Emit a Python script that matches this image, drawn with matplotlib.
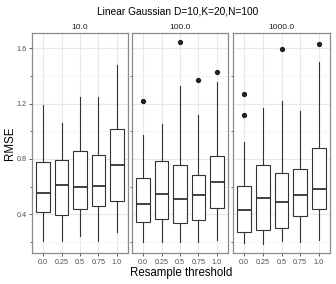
import matplotlib
matplotlib.use("Agg")
import matplotlib.pyplot as plt

plt.rcParams['font.family'] = ['Liberation Sans', 'DejaVu Sans']

facets = ["10.0", "100.0", "1000.0"]
thresholds = ["0.0", "0.25", "0.5", "0.75", "1.0"]

# per facet: whisker low, Q1, median, Q3, whisker high for each threshold
whislo = [[0.205, 0.21, 0.243, 0.205, 0.272],
          [0.202, 0.202, 0.200, 0.202, 0.214],
          [0.190, 0.186, 0.207, 0.200, 0.214]]
q1 = [[0.419, 0.395, 0.436, 0.460, 0.494],
      [0.347, 0.368, 0.339, 0.361, 0.448],
      [0.274, 0.287, 0.303, 0.388, 0.436]]
med = [[0.552, 0.614, 0.595, 0.604, 0.754],
       [0.472, 0.549, 0.508, 0.539, 0.635],
       [0.429, 0.515, 0.487, 0.537, 0.583]]
q3 = [[0.775, 0.790, 0.859, 0.828, 1.014],
      [0.662, 0.783, 0.754, 0.682, 0.823],
      [0.607, 0.756, 0.696, 0.727, 0.876]]
whishi = [[1.189, 1.057, 1.245, 1.249, 1.478],
          [0.973, 1.052, 1.325, 1.117, 1.357],
          [0.924, 1.165, 1.218, 1.148, 1.502]]
outliers = [[[], [], [], [], []],
            [[1.219], [], [1.642], [1.370], [1.430]],
            [[1.270, 1.117], [], [1.595], [], [1.630]]]

title = "Linear Gaussian D=10,K=20,N=100"
xlabel = "Resample threshold"
ylabel = "RMSE"

W, H = 336, 284
fig = plt.figure(figsize=(W / 100, H / 100), dpi=100)

panel_x = [(32, 128), (132, 228), (233, 330)]
top, bottom = 33, 253

line_col = "#333333"
for i, (x0, x1) in enumerate(panel_x):
    ax = fig.add_axes([x0 / W, 1 - bottom / H, (x1 - x0) / W, (bottom - top) / H])
    stats = []
    for j in range(len(thresholds)):
        stats.append(dict(whislo=whislo[i][j], q1=q1[i][j], med=med[i][j],
                          q3=q3[i][j], whishi=whishi[i][j], fliers=outliers[i][j]))
    ax.bxp(stats, positions=range(1, len(thresholds) + 1), widths=0.75,
           showcaps=False, patch_artist=True,
           boxprops=dict(facecolor="white", edgecolor=line_col, linewidth=0.8),
           whiskerprops=dict(color=line_col, linewidth=0.8),
           medianprops=dict(color=line_col, linewidth=1.3),
           flierprops=dict(marker="o", markerfacecolor="#222222", markeredgecolor="#222222",
                           markersize=2.8, linestyle="none"))
    ax.set_xlim(0.4, 5.6)
    ax.set_ylim(0.12, 1.71)
    ax.set_xticks(range(1, len(thresholds) + 1))
    ax.set_xticklabels(thresholds)
    ax.set_yticks([0.4, 0.8, 1.2, 1.6])
    ax.set_yticks([0.2, 0.6, 1.0, 1.4], minor=True)
    ax.grid(True, which="major", color="#e8e8e8", linewidth=0.8, zorder=0)
    ax.grid(True, which="minor", axis="y", color="#f2f2f2", linewidth=0.5, zorder=0)
    ax.set_axisbelow(True)
    ax.tick_params(axis="both", which="major", length=2, width=0.6, color="#444444",
                   labelsize=5.2, labelcolor="#4d4d4d", pad=2)
    ax.tick_params(axis="y", which="minor", length=1.5, width=0.6, color="#444444")
    if i == 0:
        ax.set_yticklabels(["0.4", "0.8", "1.2", "1.6"])
    else:
        ax.tick_params(axis="y", which="major", labelleft=False, length=0)
    for s in ax.spines.values():
        s.set_color("#8a8a8a")
        s.set_linewidth(0.9)
    ax.set_title(facets[i], fontsize=6, color="#1a1a1a", pad=3)

fig.text(178 / W, 1 - 11 / H, title, ha="center", va="center", fontsize=7.3, color="black")
fig.text(181 / W, 1 - 273 / H, xlabel, ha="center", va="center", fontsize=8.3, color="black")
fig.text(10 / W, 1 - 143 / H, ylabel, ha="center", va="center", rotation=90, fontsize=8.3, color="black")

fig.savefig("out.png", dpi=100)
